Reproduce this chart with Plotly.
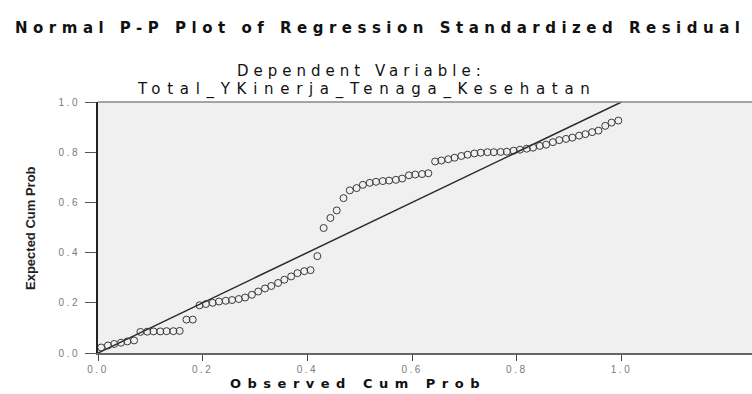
import plotly.graph_objects as go

# Observed cumulative probability (x) and expected cumulative probability (y)
observed_cum_prob = [
    0.006, 0.019, 0.031, 0.044, 0.056, 0.069, 0.081, 0.094, 0.106, 0.119,
    0.131, 0.144, 0.156, 0.169, 0.181, 0.194, 0.206, 0.219, 0.231, 0.244,
    0.256, 0.269, 0.281, 0.294, 0.306, 0.319, 0.331, 0.344, 0.356, 0.369,
    0.381, 0.394, 0.406, 0.419, 0.431, 0.444, 0.456, 0.469, 0.481, 0.494,
    0.506, 0.519, 0.531, 0.544, 0.556, 0.569, 0.581, 0.594, 0.606, 0.619,
    0.631, 0.644, 0.656, 0.669, 0.681, 0.694, 0.706, 0.719, 0.731, 0.744,
    0.756, 0.769, 0.781, 0.794, 0.806, 0.819, 0.831, 0.844, 0.856, 0.869,
    0.881, 0.894, 0.906, 0.919, 0.931, 0.944, 0.956, 0.969, 0.981, 0.994,
]
expected_cum_prob = [
    0.022, 0.030, 0.036, 0.041, 0.046, 0.050, 0.084, 0.085, 0.086, 0.086,
    0.087, 0.087, 0.088, 0.133, 0.133, 0.190, 0.195, 0.200, 0.205, 0.208,
    0.211, 0.215, 0.221, 0.232, 0.245, 0.257, 0.267, 0.279, 0.292, 0.305,
    0.318, 0.326, 0.330, 0.386, 0.498, 0.538, 0.568, 0.617, 0.648, 0.657,
    0.670, 0.678, 0.682, 0.685, 0.687, 0.690, 0.695, 0.708, 0.711, 0.713,
    0.716, 0.763, 0.767, 0.772, 0.778, 0.785, 0.790, 0.795, 0.798, 0.800,
    0.800, 0.801, 0.802, 0.806, 0.810, 0.814, 0.818, 0.825, 0.830, 0.840,
    0.848, 0.853, 0.858, 0.866, 0.872, 0.880, 0.886, 0.905, 0.918, 0.926,
]
reference_line_x = [0.0, 1.0]
reference_line_y = [0.0, 1.0]
tick_values = [0.0, 0.2, 0.4, 0.6, 0.8, 1.0]
tick_labels = ["0.0", "0.2", "0.4", "0.6", "0.8", "1.0"]

main_title = "Normal P-P Plot of Regression Standardized Residual"
subtitle_1 = "Dependent Variable:"
subtitle_2 = "Total_YKinerja_Tenaga_Kesehatan"
x_title = "Observed Cum Prob"
y_title = "Expected Cum Prob"

W, H = 752, 394
L, R, T, B = 98, 0, 102, 41
PW, PH = W - L - R, H - T - B


def px_x(p):
    return (p - L) / PW


def px_y(p):
    return (H - B - p) / PH


def spaced(s, sp):
    return "<span style='letter-spacing:%.1fpx'>%s</span>" % (sp, s)


fig = go.Figure()
fig.add_trace(go.Scatter(
    x=reference_line_x, y=reference_line_y, mode="lines",
    line=dict(color="#2a2a2a", width=1.5), hoverinfo="skip", showlegend=False,
))
fig.add_trace(go.Scatter(
    x=observed_cum_prob, y=expected_cum_prob, mode="markers",
    marker=dict(symbol="circle-open", size=7, color="#3a3a3a", line=dict(width=1)),
    showlegend=False,
))

tick_font = dict(family="Liberation Sans", size=10, color="#7a7a7a")
tick_text = [spaced(t, 2.5) for t in tick_labels]

fig.update_xaxes(
    range=[0, PW / 523.5], tickvals=tick_values, ticktext=tick_text,
    showgrid=False, zeroline=False, showline=True, linecolor="#666666", linewidth=2,
    ticks="outside", ticklen=6, tickcolor="#444444", tickwidth=1,
    tickfont=tick_font,
)
fig.update_yaxes(
    range=[0, 1], tickvals=tick_values, ticktext=tick_text,
    showgrid=False, zeroline=False, showline=True, linecolor="#222222", linewidth=2,
    ticks="outside", ticklen=11, tickcolor="#555555", tickwidth=1,
    tickfont=tick_font, ticklabelstandoff=3,
)

annotations = [
    dict(text="<b>" + spaced(main_title, 5.5) + "</b>",
         x=px_x(13), y=px_y(28), xanchor="left", yanchor="middle",
         font=dict(family="DejaVu Sans", size=15, color="#111111")),
    dict(text=spaced(subtitle_1, 5.0),
         x=px_x(361), y=px_y(71), xanchor="center", yanchor="middle",
         font=dict(family="DejaVu Sans", size=15, color="#111111")),
    dict(text=spaced(subtitle_2, 6.7),
         x=px_x(367), y=px_y(89), xanchor="center", yanchor="middle",
         font=dict(family="DejaVu Sans", size=15, color="#111111")),
    dict(text="<b>" + spaced(x_title, 6.5) + "</b>",
         x=px_x(358), y=px_y(383), xanchor="center", yanchor="middle",
         font=dict(family="DejaVu Sans", size=13, color="#111111")),
    dict(text="<b>" + y_title + "</b>", textangle=-90,
         x=px_x(30), y=px_y(228), xanchor="center", yanchor="middle",
         font=dict(family="Liberation Sans", size=13, color="#222222")),
]
for a in annotations:
    a.update(xref="paper", yref="paper", showarrow=False)

fig.update_layout(
    width=W, height=H,
    margin=dict(l=L, r=R, t=T, b=B),
    paper_bgcolor="white", plot_bgcolor="#f0f0f0",
    annotations=annotations,
    shapes=[dict(type="line", xref="paper", yref="paper", x0=0, x1=1, y0=1, y1=1,
                 line=dict(color="#8a8a8a", width=1.5))],
)

fig.write_html(
    "out.html",
    config={"displayModeBar": False},
    post_script="document.body.style.margin='0';document.body.style.padding='0';",
)
